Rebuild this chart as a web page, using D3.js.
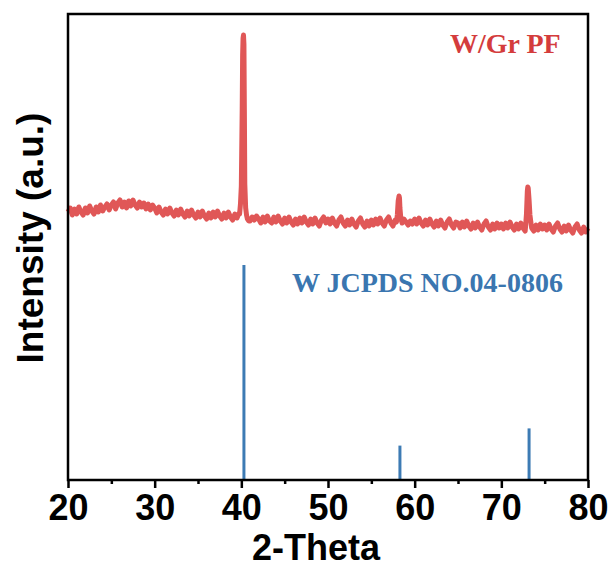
<!DOCTYPE html>
<html>
<head>
<meta charset="utf-8">
<script src="https://cdn.jsdelivr.net/npm/d3@7"></script>
<style>
  body { margin: 0; background: #fff; }
  svg { display: block; }
</style>
</head>
<body>
<svg id="chart" width="616" height="569"></svg>
<script>
'use strict';

// measured pattern: background read at 0.25 deg steps from 20 to 80 (a.u.)
const bgStart = 20, bgStep = 0.25;
const background = [
  268, 272, 265, 271, 266, 273, 268, 265, 272, 267, 274, 269, 266, 273, 268, 275, 269, 273, 276, 270,
  275, 278, 271, 277, 280, 273, 278, 272, 279, 274, 280, 275, 272, 278, 273, 277, 271, 276, 270, 275,
  272, 267, 273, 268, 265, 271, 266, 272, 267, 264, 270, 265, 271, 266, 263, 269, 264, 270, 265, 262,
  268, 263, 269, 264, 261, 267, 262, 268, 263, 269, 264, 261, 267, 262, 268, 263, 260, 266, 262, 267,
  264, 261, 265, 262, 259, 263, 260, 264, 261, 257, 263, 258, 264, 259, 257, 263, 258, 264, 259, 256,
  262, 257, 263, 258, 255, 261, 256, 262, 257, 263, 258, 255, 261, 256, 262, 257, 254, 260, 263, 257,
  261, 256, 262, 257, 254, 260, 263, 257, 254, 260, 255, 261, 256, 253, 259, 262, 256, 253, 259, 254,
  260, 255, 261, 256, 262, 257, 254, 260, 263, 257, 254, 260, 256, 260, 257, 261, 258, 255, 259, 256,
  261, 256, 262, 257, 254, 260, 255, 261, 256, 253, 259, 254, 260, 255, 252, 258, 261, 255, 252, 258,
  257, 252, 258, 253, 259, 254, 251, 257, 252, 258, 253, 250, 256, 259, 253, 250, 256, 251, 257, 252,
  256, 251, 257, 252, 258, 253, 250, 256, 251, 257, 252, 249, 255, 258, 252, 249, 255, 250, 256, 251,
  255, 250, 256, 251, 248, 254, 257, 251, 248, 254, 249, 255, 250, 247, 253, 256, 250, 247, 253, 248,
  252
];

// peak regions read at finer steps [2theta, intensity]
const peak110 = [[39.8, 266], [39.9, 276], [40.0, 294], [40.1, 370], [40.15, 425], [40.2, 442],
  [40.25, 445], [40.3, 436], [40.35, 370], [40.4, 296], [40.5, 272], [40.6, 265], [40.7, 261], [40.85, 259]];
const peak200 = [[57.9, 258], [58.0, 265], [58.1, 279], [58.2, 284], [58.25, 282], [58.3, 272],
  [58.4, 262], [58.55, 257]];
const peak211 = [[72.8, 254], [72.9, 266], [73.0, 289], [73.05, 293], [73.1, 292], [73.2, 280],
  [73.3, 265], [73.45, 255]];

// W JCPDS 04-0806 reference lines
const refPos = [40.3, 58.3, 73.2];
const refInt = [100, 16, 24];

const xTicks = [20, 30, 40, 50, 60, 70, 80];
const xMinor = [25, 35, 45, 55, 65, 75];

const svg = d3.select("#chart");
const plot = { left: 68, right: 588, top: 14, bottom: 480 };

const x = d3.scaleLinear().domain([20, 80]).range([plot.left, plot.right]);
const y = d3.scaleLinear().domain([0, 466]).range([plot.bottom, plot.top]);
const yRef = d3.scaleLinear().domain([0, 100]).range([plot.bottom, 265]);

// build the measured series
const windows = [[39.75, 40.9], [57.8, 58.6], [72.75, 73.5]];
let pts = background.map(function (v, i) { return [bgStart + i * bgStep, v]; })
  .filter(function (p) {
    return !windows.some(function (w) { return p[0] > w[0] && p[0] < w[1]; });
  });
pts = pts.concat(peak110, peak200, peak211).sort(function (a, b) { return a[0] - b[0]; });

const line = d3.line()
  .x(function (d) { return x(d[0]); })
  .y(function (d) { return y(d[1]); });

svg.append("path")
  .datum(pts)
  .attr("fill", "none")
  .attr("stroke", "#e05757")
  .attr("stroke-width", 5)
  .attr("stroke-linejoin", "round")
  .attr("d", line);

svg.selectAll(".ref")
  .data(refPos)
  .enter().append("line")
  .attr("class", "ref")
  .attr("x1", function (d) { return x(d); })
  .attr("x2", function (d) { return x(d); })
  .attr("y1", plot.bottom)
  .attr("y2", function (d, i) { return yRef(refInt[i]); })
  .attr("stroke", "#3d7bb4")
  .attr("stroke-width", 3);

// frame
svg.append("rect")
  .attr("x", plot.left).attr("y", plot.top)
  .attr("width", plot.right - plot.left).attr("height", plot.bottom - plot.top)
  .attr("fill", "none")
  .attr("stroke", "#000")
  .attr("stroke-width", 2.5);

// bottom axis
const gx = svg.append("g")
  .attr("transform", "translate(0," + plot.bottom + ")")
  .call(d3.axisBottom(x).tickValues(xTicks).tickSize(8).tickPadding(6).tickFormat(d3.format("d")));
gx.select(".domain").remove();
gx.selectAll(".tick line").attr("stroke-width", 2.5);
gx.selectAll(".tick text")
  .attr("fill", "#000")
  .style("font-family", "'Liberation Sans', Arial, sans-serif")
  .style("font-weight", "bold")
  .style("font-size", "36px");

svg.append("g")
  .attr("transform", "translate(0," + plot.bottom + ")")
  .call(d3.axisBottom(x).tickValues(xMinor).tickSize(4).tickFormat(""))
  .call(function (g) { g.select(".domain").remove(); })
  .selectAll(".tick line").attr("stroke-width", 2.5);

svg.append("text")
  .attr("x", 316).attr("y", 560)
  .attr("text-anchor", "middle")
  .style("font-family", "'Liberation Sans', Arial, sans-serif")
  .style("font-weight", "bold")
  .style("font-size", "36px")
  .text("2-Theta");

svg.append("text")
  .attr("transform", "translate(43,238) rotate(-90)")
  .attr("text-anchor", "middle")
  .style("font-family", "'Liberation Sans', Arial, sans-serif")
  .style("font-weight", "bold")
  .style("font-size", "37px")
  .text("Intensity (a.u.)");

svg.append("text")
  .attr("x", 450).attr("y", 53)
  .attr("fill", "#d43c3c")
  .style("font-family", "'Liberation Serif', 'Times New Roman', serif")
  .style("font-weight", "bold")
  .style("font-size", "28px")
  .text("W/Gr PF");

svg.append("text")
  .attr("x", 292).attr("y", 292)
  .attr("fill", "#3a76b0")
  .style("font-family", "'Liberation Serif', 'Times New Roman', serif")
  .style("font-weight", "bold")
  .style("font-size", "28px")
  .text("W JCPDS NO.04-0806");
</script>
</body>
</html>
